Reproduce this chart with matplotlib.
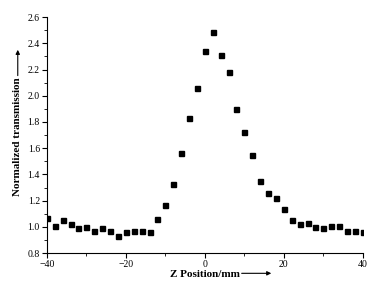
import numpy as np
import matplotlib.pyplot as plt
from matplotlib.ticker import MultipleLocator

plt.rcParams['font.family'] = ['Liberation Serif', 'DejaVu Serif']

z = [-40, -38, -36, -34, -32, -30, -28, -26, -24, -22, -20, -18, -16, -14,
     -12, -10, -8, -6, -4, -2, 0, 2, 4, 6, 8, 10, 12, 14, 16, 18, 20,
     22, 24, 26, 28, 30, 32, 34, 36, 38, 40]
T = [1.07, 1.01, 1.05, 1.02, 0.99, 1.00, 0.97, 0.99, 0.97, 0.93, 0.96, 0.97, 0.97, 0.96,
     1.06, 1.17, 1.33, 1.56, 1.83, 2.06, 2.34, 2.49, 2.31, 2.18, 1.90, 1.72, 1.55, 1.35,
     1.26, 1.22, 1.14, 1.05, 1.02, 1.03, 1.00, 0.99, 1.01, 1.01, 0.97, 0.97, 0.96]

fig = plt.figure(figsize=(3.78, 2.85), dpi=100)
ax = fig.add_axes([0.124, 0.112, 0.836, 0.828])
ax.plot(z, T, 's', color='black', markersize=3.6)

ax.set_xlim(-40, 40)
ax.set_ylim(0.8, 2.6)
ax.xaxis.set_major_locator(MultipleLocator(20))
ax.xaxis.set_minor_locator(MultipleLocator(10))
ax.yaxis.set_major_locator(MultipleLocator(0.2))
ax.yaxis.set_minor_locator(MultipleLocator(0.1))
ax.spines['top'].set_visible(False)
ax.spines['right'].set_visible(False)
ax.tick_params(which='major', length=3.5, width=0.8, labelsize=7, pad=1.5)
ax.tick_params(which='minor', length=2, width=0.6)
ax.set_yticklabels(['%.1f' % v for v in ax.get_yticks()])

# axis labels with arrows
fig.text(0.45, 0.037, 'Z Position/mm', fontsize=8, fontweight='bold',
         ha='left', va='center')
ax.annotate('', xy=(0.725, 0.041), xytext=(0.632, 0.041),
            xycoords='figure fraction',
            arrowprops=dict(arrowstyle='-|>', color='black', lw=0.8, mutation_scale=6))
fig.text(0.047, 0.52, 'Normalized transmission', fontsize=8, fontweight='bold',
         rotation=90, ha='center', va='center')
ax.annotate('', xy=(0.047, 0.835), xytext=(0.047, 0.725),
            xycoords='figure fraction',
            arrowprops=dict(arrowstyle='-|>', color='black', lw=0.8, mutation_scale=6))

fig.savefig('out.png', dpi=100)
